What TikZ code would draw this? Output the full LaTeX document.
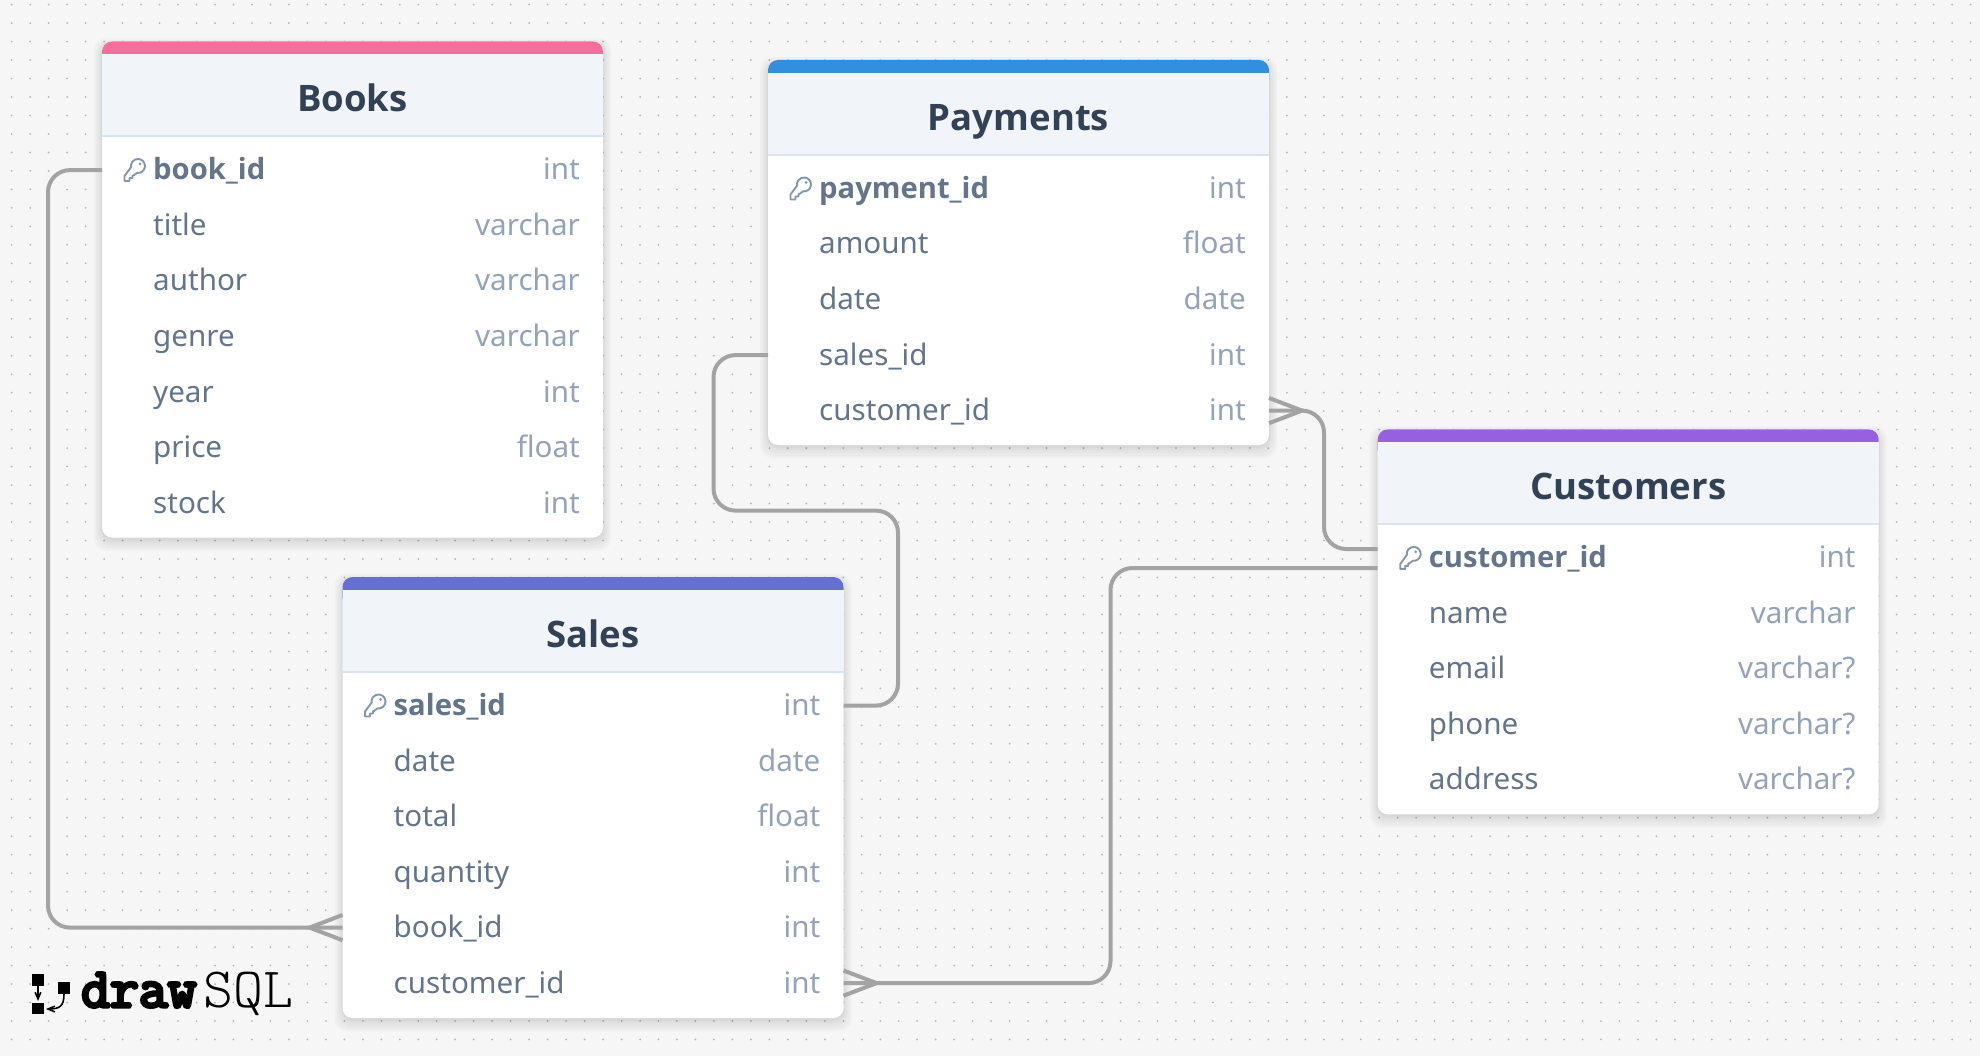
\documentclass[tikz,border=0pt]{standalone}
\usepackage{fontspec}
\setmainfont{Noto Sans}
\newfontfamily\strongface{Open Sans}
\newfontfamily\logoheavy[FakeBold=6]{Latin Modern Mono}
\usetikzlibrary{arrows}
\definecolor{canvas}{HTML}{F6F6F6}
\definecolor{griddot}{HTML}{B4B4B4}
\definecolor{headbg}{HTML}{F1F5F9}
\definecolor{headline}{HTML}{DAE3EE}
\definecolor{titleink}{HTML}{334155}
\definecolor{nameink}{HTML}{64748B}
\definecolor{typeink}{HTML}{94A3B8}
\definecolor{keyink}{HTML}{8496AC}
\definecolor{linkgray}{HTML}{A3A3A3}
\definecolor{booksbar}{HTML}{F76D9B}
\definecolor{paybar}{HTML}{328FE0}
\definecolor{salesbar}{HTML}{6570D2}
\definecolor{custbar}{HTML}{9660E0}
\tikzset{
  cardbody/.style={draw=none, fill=white, rounded corners=10pt, inner sep=0pt, outer sep=0pt, minimum width=501pt},
  fieldrow/.style={inner sep=0pt, outer sep=0pt, minimum width=501pt, minimum height=55.5pt},
  fieldname/.style={anchor=base west, inner sep=0pt, text=nameink, font=\fontsize{29.6}{30}\selectfont},
  keyname/.style={fieldname, font=\fontsize{29.2}{30}\selectfont\strongface\bfseries},
  fieldtype/.style={anchor=base east, inner sep=0pt, text=typeink, font=\fontsize{29.6}{30}\selectfont},
  tabletitle/.style={anchor=base, inner sep=0pt, text=titleink, font=\fontsize{36.5}{37}\selectfont\strongface\bfseries},
  link/.style={draw=linkgray, line width=4pt, rounded corners=22pt},
  crow/.style={draw=linkgray, line width=4pt},
  keyicon/.style={draw=keyink, line width=1.9pt, line cap=round, line join=round},
  logoarrow/.style={draw=black, line width=1.6pt, -angle 45},
  pics/tablehead/.style={code={
    \fill[#1, rounded corners=10pt] (0,30) -- (0,0) -- (501,0) -- (501,30) -- cycle;
    \fill[headbg] (0,13) rectangle (501,95);
    \fill[headline] (0,94) rectangle (501,96);
  }},
  pics/pkkey/.style={code={
    \draw[keyicon] (10,3.4) arc[start angle=98, end angle=-190, radius=7] -- (-2.5,6.5) -- (-2.5,11.5) -- (2.5,11.5) -- (2.5,8.5) -- (5.5,8.5) -- (5.5,6) -- (6.5,6) -- cycle;
    \fill[keyink] (13,-5.5) circle (1.5pt);
  }},
}
\newcommand{\cardshadow}[4]{%
  \foreach \grow/\shift in {8/5,6/5,4/4,2/3,1/2}
    \fill[black, opacity=.022, rounded corners=12pt] (#1-\grow,#2-\grow+\shift) rectangle (#3+\grow,#4+\grow+\shift);
}
\begin{document}
\begin{tikzpicture}[x=1pt, y=-1pt]
\useasboundingbox (0,0) rectangle (1980,1056);
\fill[canvas] (0,0) rectangle (1980,1056);
\foreach \i in {0,...,106}
  \foreach \j in {0,...,56}
    \fill[griddot] (11.7+18.48*\i,4.6+18.48*\j) circle (1pt);

% Books
\cardshadow{102}{41.5}{603}{537.5}
\begin{scope}[shift={(102,41.5)}]
  \node[cardbody, minimum height=496pt] (books) at (250.5,248) {};
  \pic {tablehead=booksbar};
  \node[tabletitle] (bookstitle) at (250.5,70.5) {Books};
  \foreach \fid/\fname/\ftype [count=\n from 0] in {booksid/book\_id/int, bookstitlef/title/varchar, booksauthor/author/varchar, booksgenre/genre/varchar, booksyear/year/int, booksprice/price/float, booksstock/stock/int} {
    \node[fieldrow] (\fid) at (250.5,128.6+55.5*\n) {};
    \ifnum\n=0
      \pic at (25,128) {pkkey};
      \node[keyname] (\fid name) at (51,138.5) {\fname};
    \else
      \node[fieldname] (\fid name) at (51,138.5+55.5*\n) {\fname};
    \fi
    \node[fieldtype] (\fid type) at (478,138.5+55.5*\n) {\ftype};
  }
\end{scope}

% Payments
\cardshadow{768}{60}{1269}{445}
\begin{scope}[shift={(768,60)}]
  \node[cardbody, minimum height=385pt] (payments) at (250.5,192.5) {};
  \pic {tablehead=paybar};
  \node[tabletitle] (paytitle) at (250.5,70.5) {Payments};
  \foreach \fid/\fname/\ftype [count=\n from 0] in {payid/payment\_id/int, payamount/amount/float, paydate/date/date, paysales/sales\_id/int, paycustomer/customer\_id/int} {
    \node[fieldrow] (\fid) at (250.5,128.6+55.5*\n) {};
    \ifnum\n=0
      \pic at (25,128) {pkkey};
      \node[keyname] (\fid name) at (51,138.5) {\fname};
    \else
      \node[fieldname] (\fid name) at (51,138.5+55.5*\n) {\fname};
    \fi
    \node[fieldtype] (\fid type) at (478,138.5+55.5*\n) {\ftype};
  }
\end{scope}

% Sales
\cardshadow{342.5}{577}{843.5}{1018}
\begin{scope}[shift={(342.5,577)}]
  \node[cardbody, minimum height=441pt] (sales) at (250.5,220.5) {};
  \pic {tablehead=salesbar};
  \node[tabletitle] (salestitle) at (250.5,70.5) {Sales};
  \foreach \fid/\fname/\ftype [count=\n from 0] in {salesid/sales\_id/int, salesdate/date/date, salestotal/total/float, salesquantity/quantity/int, salesbook/book\_id/int, salescustomer/customer\_id/int} {
    \node[fieldrow] (\fid) at (250.5,128.6+55.5*\n) {};
    \ifnum\n=0
      \pic at (25,128) {pkkey};
      \node[keyname] (\fid name) at (51,138.5) {\fname};
    \else
      \node[fieldname] (\fid name) at (51,138.5+55.5*\n) {\fname};
    \fi
    \node[fieldtype] (\fid type) at (478,138.5+55.5*\n) {\ftype};
  }
\end{scope}

% Customers
\cardshadow{1377.7}{429.4}{1878.7}{814.4}
\begin{scope}[shift={(1377.7,429.4)}]
  \node[cardbody, minimum height=385pt] (customers) at (250.5,192.5) {};
  \pic {tablehead=custbar};
  \node[tabletitle] (custtitle) at (250.5,70.5) {Customers};
  \foreach \fid/\fname/\ftype [count=\n from 0] in {custid/customer\_id/int, custname/name/varchar, custemail/email/varchar?, custphone/phone/varchar?, custaddress/address/varchar?} {
    \node[fieldrow] (\fid) at (250.5,128.6+55.5*\n) {};
    \ifnum\n=0
      \pic at (25,128) {pkkey};
      \node[keyname] (\fid name) at (51,138.5) {\fname};
    \else
      \node[fieldname] (\fid name) at (51,138.5+55.5*\n) {\fname};
    \fi
    \node[fieldtype] (\fid type) at (478,138.5+55.5*\n) {\ftype};
  }
\end{scope}

% connectors
\draw[link] (booksid.west) -- ++(-54,0) |- (salesbook.west);
\draw[crow] (salesbook.west) ++(0,12.6) -- ++(-33,-12.6) -- ++(33,-12.6);
\draw[link] (paysales.west) -- ++(-54.5,0) -- ++(0,155.5) -- ++(184.5,0) |- (salesid.east);
\draw[link] (paycustomer.east) -- ++(55,0) |- ([yshift=9pt]custid.west);
\draw[crow] (paycustomer.east) ++(0,-12.6) -- ++(33,12.6) -- ++(-33,12.6);
\draw[link] (salescustomer.east) -- ++(267,0) |- ([yshift=-10pt]custid.west);
\draw[crow] (salescustomer.east) ++(0,-12.6) -- ++(33,12.6) -- ++(-33,12.6);

% logo
\fill[black] (32,974) rectangle (44,986);
\fill[black] (32,1002.7) rectangle (44,1014.3);
\fill[black] (57.7,982) rectangle (70,994);
\draw[logoarrow] (38,986) -- (38,1001);
\draw[logoarrow] (64,994) .. controls (64,1006) and (60,1009) .. (46,1009);
\node[anchor=base west, inner sep=0pt, font=\fontsize{56}{56}\selectfont\logoheavy] (logodraw) at (81,1007) {draw};
\node[anchor=base west, inner sep=0pt, font=\fontsize{57}{57}\selectfont\ttfamily\fontseries{l}\selectfont] (logosql) at (203,1007) {SQL};
\end{tikzpicture}
\end{document}
